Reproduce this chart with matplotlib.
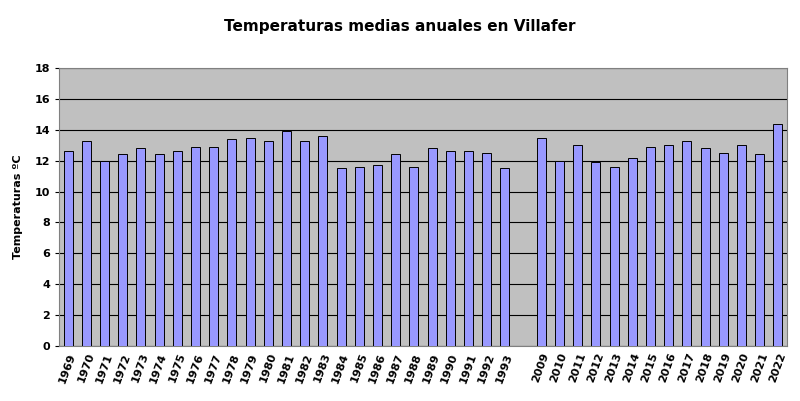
import matplotlib
matplotlib.use("Agg")
import matplotlib.pyplot as plt
import numpy as np

years = ["1969","1970","1971","1972","1973","1974","1975","1976","1977","1978","1979","1980",
         "1981","1982","1983","1984","1985","1986","1987","1988","1989","1990","1991","1992","1993",
         "","2009","2010","2011","2012","2013","2014","2015","2016","2017","2018","2019","2020","2021","2022"]
temps = [12.6,13.3,12.0,12.4,12.8,12.4,12.6,12.9,12.9,13.4,13.5,13.3,
         13.9,13.3,13.6,11.5,11.6,11.7,12.4,11.6,12.8,12.6,12.6,12.5,11.5,
         np.nan,13.5,12.0,13.0,11.9,11.6,12.2,12.9,13.0,13.3,12.8,12.5,13.0,12.4,14.4]
yticks = [0,2,4,6,8,10,12,14,16,18]

fig = plt.figure(figsize=(8,4.01), dpi=100)
ax = fig.add_axes([59/800, 1-346/401, 728/800, 278/401])
ax.set_facecolor("#C0C0C0")
x = np.arange(len(years))
ax.bar(x, np.nan_to_num(temps), width=0.5, color="#9999FF", edgecolor="black", linewidth=0.7, zorder=3)
ax.set_xlim(-0.5, len(years)-0.5)
ax.set_ylim(0, 18)
ax.set_yticks(yticks)
ax.set_yticklabels([str(t) for t in yticks], fontsize=8, fontweight="bold")
ax.yaxis.grid(True, color="black", linewidth=0.8, zorder=1)
ax.set_xticks(x)
ax.set_xticklabels(years, rotation=70, fontsize=8, fontweight="bold", ha="right", rotation_mode="anchor")
ax.tick_params(axis="x", length=0, pad=4)
ax.tick_params(axis="y", length=3)
for s in ax.spines.values():
    s.set_color("#808080")
ax.set_ylabel("Temperaturas ºC", fontsize=8, fontweight="bold", labelpad=8)
fig.text(0.5, 1-27/401, "Temperaturas medias anuales en Villafer", ha="center", va="center",
         fontsize=11, fontweight="bold")
fig.savefig("out.png", dpi=100, facecolor="white")
